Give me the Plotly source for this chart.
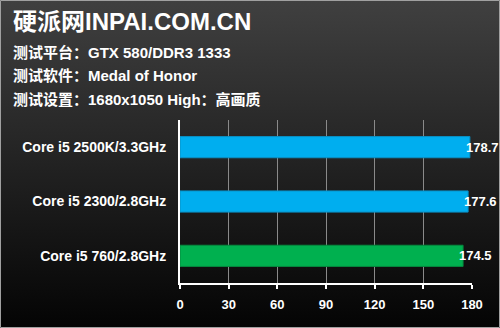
import base64
import plotly.graph_objects as go

categories = ["Core i5 2500K/3.3GHz", "Core i5 2300/2.8GHz", "Core i5 760/2.8GHz"]
values = [178.7, 177.6, 174.5]
bar_colors = ["#00AEEF", "#00AEEF", "#00B04F"]
edge_colors = ["#0a8fc4", "#0a8fc4", "#05893f"]
tick_vals = [0, 30, 60, 90, 120, 150, 180]
title = "硬派网INPAI.COM.CN"
info_lines = ["测试平台：GTX 580/DDR3 1333", "测试软件：Medal of Honor", "测试设置：1680x1050 High：高画质"]

W, H = 500, 328
L, R, T, B = 180, 28, 120, 45
PW, PH = W - L - R, H - T - B

def px_x(p):
    return (p - L) / PW

def px_y(p):
    return 1 - (p - T) / PH

svg = ('<svg xmlns="http://www.w3.org/2000/svg" width="500" height="328" viewBox="0 0 500 328" preserveAspectRatio="none">'
       '<defs><linearGradient id="g" x1="0" y1="0" x2="0" y2="1">'
       '<stop offset="0" stop-color="#404040"/><stop offset="1" stop-color="#040404"/></linearGradient></defs>'
       '<rect width="500" height="328" fill="url(#g)"/></svg>')
src = "data:image/svg+xml;base64," + base64.b64encode(svg.encode()).decode()

fig = go.Figure()
fig.add_trace(go.Bar(
    y=categories, x=values, orientation="h",
    marker=dict(color=bar_colors, line=dict(color=edge_colors, width=1)),
    width=0.39, hoverinfo="skip",
))

for c, v in zip(categories, values):
    fig.add_annotation(x=v, y=c, xref="x", yref="y", text=f"{v:.1f}", showarrow=False,
                       xanchor="left", xshift=-6,
                       font=dict(family="Liberation Sans", size=13, color="white", weight="bold"))

fig.add_layout_image(source=src, xref="paper", yref="paper", x=px_x(0), y=px_y(0),
                     sizex=W / PW, sizey=H / PH, xanchor="left", yanchor="top",
                     sizing="stretch", layer="below")

fig.add_annotation(x=px_x(11), y=px_y(22), xref="paper", yref="paper", text=title, showarrow=False,
                   xanchor="left", yanchor="middle",
                   font=dict(family="Liberation Sans, Noto Sans CJK SC", size=24, color="white", weight="bold"))
for i, line in enumerate(info_lines):
    fig.add_annotation(x=px_x(11), y=px_y(52 + i * 23.5), xref="paper", yref="paper", text=line, showarrow=False,
                       xanchor="left", yanchor="middle",
                       font=dict(family="Liberation Sans, Noto Sans CJK SC", size=15, color="white", weight="bold"))

fig.add_shape(type="rect", xref="paper", yref="paper", x0=px_x(0.5), x1=px_x(W - 0.5),
              y0=px_y(0.5), y1=px_y(H - 0.5), line=dict(color="#a0a0a0", width=1), layer="above")

fig.update_layout(
    width=W, height=H, margin=dict(l=L, r=R, t=T, b=B),
    paper_bgcolor="rgba(0,0,0,0)", plot_bgcolor="rgba(0,0,0,0)",
    showlegend=False, bargap=0.6,
    xaxis=dict(range=[0, 180], tickvals=tick_vals, showgrid=True, gridcolor="#8a8a8a", gridwidth=1,
               zeroline=False, showline=True, linecolor="white", linewidth=1.5,
               ticks="outside", ticklen=4, tickcolor="white", tickwidth=1.5,
               tickfont=dict(family="Liberation Sans", size=13, color="white", weight="bold"),
               ticklabelstandoff=5, fixedrange=True),
    yaxis=dict(autorange="reversed", showgrid=False, zeroline=False, showline=True,
               linecolor="white", linewidth=2, ticks="", ticklabelstandoff=9,
               tickfont=dict(family="Liberation Sans", size=14, color="white", weight="bold"),
               fixedrange=True),
)

fig.write_html("out.html")
